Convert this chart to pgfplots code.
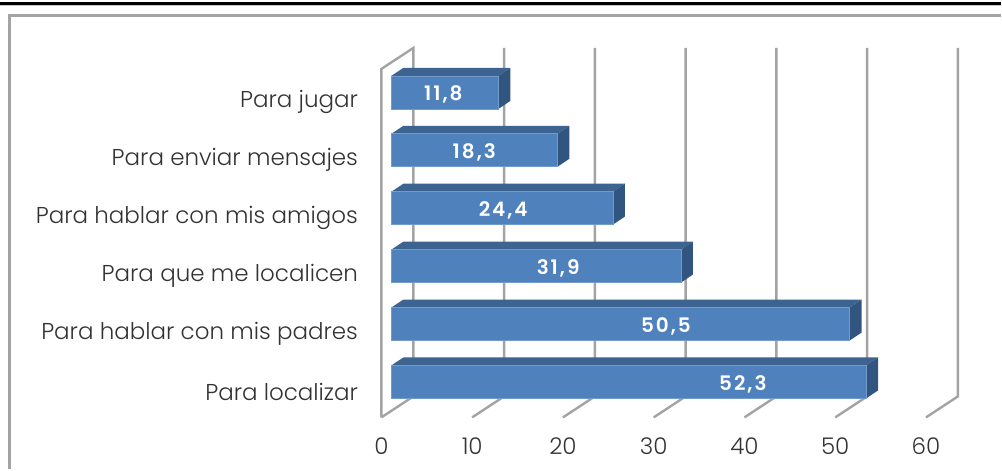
\documentclass[border=0pt]{standalone}
\usepackage{pgfplots}
\pgfplotsset{compat=1.18}
\usepackage{fontspec}
\setmainfont{Poppins Light}[BoldFont=Poppins SemiBold]
\definecolor{front}{HTML}{4F81BD}
\definecolor{topc}{HTML}{3D6390}
\definecolor{sidec}{HTML}{32557F}
\definecolor{gridc}{HTML}{A3A3A3}
\definecolor{txt}{HTML}{333333}
\begin{document}
\begin{tikzpicture}
\begin{axis}[
  scale only axis, width=1002pt, height=470pt,
  xmin=-43.124, xmax=67.107, ymin=-1.5086, ymax=6.5948,
  axis line style={draw=none}, tick style={draw=none},
  xtick={-1.1,8.9,18.9,28.9,38.9,48.9,58.9},
  xticklabels={0,10,20,30,40,50,60},
  xticklabel style={anchor=center, yshift=23pt, font=\fontsize{23}{26}\selectfont, text=txt},
  ytick={0,1,2,3,4,5},
  yticklabels={Para localizar,Para hablar con mis padres,Para que me localicen,Para hablar con mis amigos,Para enviar mensajes,Para jugar},
  yticklabel style={anchor=east, xshift=362pt, yshift=-10pt, font=\fontsize{23}{26}\selectfont, text=txt},
]
% walls
\addplot[gridc, line width=2.4pt, line join=miter] coordinates {(-1.1,-0.612)(-1.1,5.405)(2.42,5.767)(2.42,-0.25)(-1.1,-0.612)};
\addplot[gridc, line width=2.4pt] coordinates {(8.9,-0.612)(12.42,-0.25)(12.42,5.767)};
\addplot[gridc, line width=2.4pt] coordinates {(18.9,-0.612)(22.42,-0.25)(22.42,5.767)};
\addplot[gridc, line width=2.4pt] coordinates {(28.9,-0.612)(32.42,-0.25)(32.42,5.767)};
\addplot[gridc, line width=2.4pt] coordinates {(38.9,-0.612)(42.42,-0.25)(42.42,5.767)};
\addplot[gridc, line width=2.4pt] coordinates {(48.9,-0.612)(52.42,-0.25)(52.42,5.767)};
\addplot[gridc, line width=2.4pt] coordinates {(58.9,-0.612)(62.42,-0.25)(62.42,5.767)};
% bar tops
\addplot[fill=topc, draw=none] coordinates {(0,5.2845)(11.8,5.2845)(13.12,5.4225)(1.32,5.4225)} --cycle;
\addplot[fill=topc, draw=none] coordinates {(0,4.2845)(18.3,4.2845)(19.62,4.4225)(1.32,4.4225)} --cycle;
\addplot[fill=topc, draw=none] coordinates {(0,3.2845)(24.4,3.2845)(25.72,3.4225)(1.32,3.4225)} --cycle;
\addplot[fill=topc, draw=none] coordinates {(0,2.2845)(31.9,2.2845)(33.22,2.4225)(1.32,2.4225)} --cycle;
\addplot[fill=topc, draw=none] coordinates {(0,1.2845)(50.5,1.2845)(51.82,1.4225)(1.32,1.4225)} --cycle;
\addplot[fill=topc, draw=none] coordinates {(0,0.2845)(52.3,0.2845)(53.62,0.4225)(1.32,0.4225)} --cycle;
% bar sides
\addplot[fill=sidec, draw=none] coordinates {(11.8,4.7155)(13.12,4.8535)(13.12,5.4225)(11.8,5.2845)} --cycle;
\addplot[fill=sidec, draw=none] coordinates {(18.3,3.7155)(19.62,3.8535)(19.62,4.4225)(18.3,4.2845)} --cycle;
\addplot[fill=sidec, draw=none] coordinates {(24.4,2.7155)(25.72,2.8535)(25.72,3.4225)(24.4,3.2845)} --cycle;
\addplot[fill=sidec, draw=none] coordinates {(31.9,1.7155)(33.22,1.8535)(33.22,2.4225)(31.9,2.2845)} --cycle;
\addplot[fill=sidec, draw=none] coordinates {(50.5,0.7155)(51.82,0.8535)(51.82,1.4225)(50.5,1.2845)} --cycle;
\addplot[fill=sidec, draw=none] coordinates {(52.3,-0.2845)(53.62,-0.1465)(53.62,0.4225)(52.3,0.2845)} --cycle;
% bar fronts
\addplot[xbar, bar width=33pt, bar shift=0pt, fill=front, draw=front!80!white, line width=0.6pt] table[x=v,y=y] {
y v
0 52.3
1 50.5
2 31.9
3 24.4
4 18.3
5 11.8
};
% value labels, at the places that they have in the reference
\addplot[draw=none, mark=none, point meta=explicit symbolic,
  nodes near coords, every node near coord/.style={anchor=center, yshift=-2pt, text=white, font=\fontsize{20}{22}\selectfont\bfseries\addfontfeatures{LetterSpace=10}}]
  table[x=lx, y=y, meta=lab] {
y lx lab
0 38.72 52,3
1 30.25 50,5
2 18.37 31,9
3 12.32 24,4
4 9.13 18,3
5 5.72 11,8
};
\end{axis}
% frame and rule
\fill[black] (0,468pt) rectangle (1002pt,464.7pt);
\fill[gridc!60!white] (0,464.7pt) rectangle (1002pt,464pt);
\draw[gridc, line width=3pt] (9.5pt,0) -- (9.5pt,454.5pt) -- (1002pt,454.5pt);
\end{tikzpicture}
\end{document}
